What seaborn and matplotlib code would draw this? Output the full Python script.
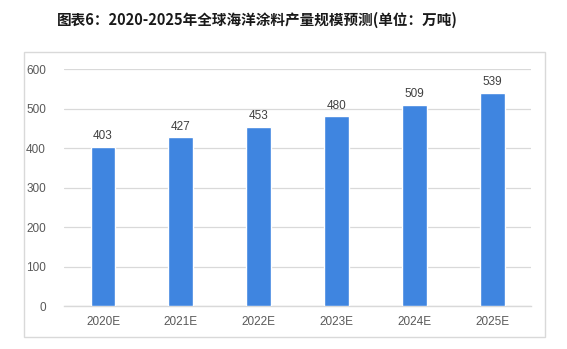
import matplotlib
matplotlib.use("Agg")
import matplotlib.pyplot as plt
import seaborn as sns
import pandas as pd
from matplotlib.patches import Rectangle

years = ["2020E", "2021E", "2022E", "2023E", "2024E", "2025E"]
output = [403, 427, 453, 480, 509, 539]
yticks = [0, 100, 200, 300, 400, 500, 600]
title = "图表6：2020-2025年全球海洋涂料产量规模预测(单位：万吨)"

sns.set_theme(style="white")
plt.rcParams["font.family"] = ["Noto Sans CJK SC", "DejaVu Sans"]

df = pd.DataFrame({"year": years, "output": output})

fig = plt.figure(figsize=(5.67, 3.49), dpi=100)
ax = fig.add_axes([0.113, 0.123, 0.824, 0.679])

# outer frame around the chart area
fig.patches.append(Rectangle((24 / 567, 1 - 337 / 349), (545 - 24) / 567, (337 - 52) / 349,
                             transform=fig.transFigure, fill=False,
                             edgecolor="#D9D9D9", linewidth=1.0))

sns.barplot(data=df, x="year", y="output", color="#3F85E0", saturation=1,
            width=0.32, ax=ax, zorder=3)

for i, v in enumerate(output):
    ax.text(i, v + 12, str(v), ha="center", va="bottom", fontsize=8.5,
            color="#404040", family=["Liberation Sans", "DejaVu Sans"])

ax.set_ylim(0, 600)
ax.set_yticks(yticks)
ax.set_yticklabels([str(t) for t in yticks])
ax.set_xlim(-0.5, len(years) - 0.5)
ax.yaxis.grid(True, color="#D9D9D9", linewidth=0.9, zorder=0)
ax.set_xlabel("")
ax.set_ylabel("")
for s in ["top", "right", "left"]:
    ax.spines[s].set_visible(False)
ax.spines["bottom"].set_color("#D9D9D9")
ax.spines["bottom"].set_linewidth(1.0)
ax.tick_params(axis="both", length=0, labelsize=8.5, labelcolor="#595959")
ax.tick_params(axis="y", pad=13)
ax.tick_params(axis="x", pad=7)
for lab in ax.get_xticklabels() + ax.get_yticklabels():
    lab.set_family(["Liberation Sans", "DejaVu Sans"])

fig.text(257 / 567, 1 - 20 / 349, title, ha="center", va="center",
         fontsize=10.5, fontweight="bold", color="#1a1a1a")

fig.savefig("out.png", dpi=100, facecolor="white")
